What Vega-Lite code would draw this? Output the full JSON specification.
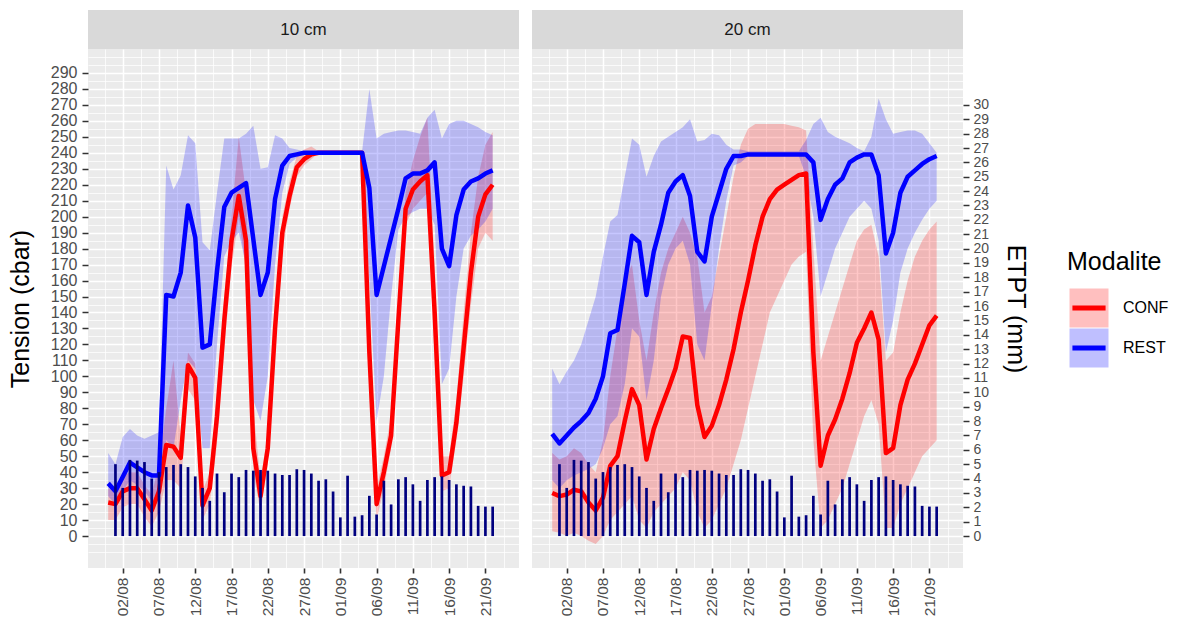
{
  "$schema": "https://vega.github.io/schema/vega-lite/v6.json",
  "padding": {"left": 8, "top": 10, "right": 0, "bottom": 0},
  "config": {
    "font": "Liberation Sans",
    "view": {"stroke": null},
    "axis": {"labelFont": "Liberation Sans", "titleFont": "Liberation Sans", "titleFontWeight": "normal", "titleColor": "#000000", "labelColor": "#4d4d4d", "domain": false, "minExtent": 0}
  },
  "datasets": {
    "etpt": [
      {"date":"2023-08-01","ETPT":5.0},{"date":"2023-08-02","ETPT":3.35},{"date":"2023-08-03","ETPT":5.3},{"date":"2023-08-04","ETPT":5.25},{"date":"2023-08-05","ETPT":5.15},
      {"date":"2023-08-06","ETPT":4.0},{"date":"2023-08-07","ETPT":4.45},{"date":"2023-08-08","ETPT":4.8},{"date":"2023-08-09","ETPT":4.95},{"date":"2023-08-10","ETPT":5.0},
      {"date":"2023-08-11","ETPT":4.8},{"date":"2023-08-12","ETPT":4.15},{"date":"2023-08-13","ETPT":3.35},{"date":"2023-08-14","ETPT":2.45},{"date":"2023-08-15","ETPT":4.35},
      {"date":"2023-08-16","ETPT":3.05},{"date":"2023-08-17","ETPT":4.35},{"date":"2023-08-18","ETPT":4.1},{"date":"2023-08-19","ETPT":4.6},{"date":"2023-08-20","ETPT":4.55},
      {"date":"2023-08-21","ETPT":4.6},{"date":"2023-08-22","ETPT":4.55},{"date":"2023-08-23","ETPT":4.35},{"date":"2023-08-24","ETPT":4.25},{"date":"2023-08-25","ETPT":4.25},
      {"date":"2023-08-26","ETPT":4.65},{"date":"2023-08-27","ETPT":4.6},{"date":"2023-08-28","ETPT":4.35},{"date":"2023-08-29","ETPT":3.85},{"date":"2023-08-30","ETPT":3.95},
      {"date":"2023-08-31","ETPT":3.1},{"date":"2023-09-01","ETPT":1.3},{"date":"2023-09-02","ETPT":4.2},{"date":"2023-09-03","ETPT":1.35},{"date":"2023-09-04","ETPT":1.45},
      {"date":"2023-09-05","ETPT":2.8},{"date":"2023-09-06","ETPT":1.5},{"date":"2023-09-07","ETPT":3.85},{"date":"2023-09-08","ETPT":2.2},{"date":"2023-09-09","ETPT":3.95},
      {"date":"2023-09-10","ETPT":4.1},{"date":"2023-09-11","ETPT":3.6},{"date":"2023-09-12","ETPT":2.45},{"date":"2023-09-13","ETPT":3.9},{"date":"2023-09-14","ETPT":4.1},
      {"date":"2023-09-15","ETPT":4.15},{"date":"2023-09-16","ETPT":3.9},{"date":"2023-09-17","ETPT":3.6},{"date":"2023-09-18","ETPT":3.5},{"date":"2023-09-19","ETPT":3.45},
      {"date":"2023-09-20","ETPT":2.1},{"date":"2023-09-21","ETPT":2.05},{"date":"2023-09-22","ETPT":2.05}
    ],
    "tension": [
      {"Profondeur":"10 cm","Modalite":"CONF","date":"2023-07-31","Tension":21,"min":10,"max":30},
      {"Profondeur":"10 cm","Modalite":"CONF","date":"2023-08-01","Tension":20,"min":10,"max":28},
      {"Profondeur":"10 cm","Modalite":"CONF","date":"2023-08-02","Tension":28,"min":18,"max":38},
      {"Profondeur":"10 cm","Modalite":"CONF","date":"2023-08-03","Tension":30,"min":20,"max":40},
      {"Profondeur":"10 cm","Modalite":"CONF","date":"2023-08-04","Tension":30,"min":20,"max":40},
      {"Profondeur":"10 cm","Modalite":"CONF","date":"2023-08-05","Tension":23,"min":12,"max":32},
      {"Profondeur":"10 cm","Modalite":"CONF","date":"2023-08-06","Tension":16,"min":6,"max":26},
      {"Profondeur":"10 cm","Modalite":"CONF","date":"2023-08-07","Tension":28,"min":15,"max":45},
      {"Profondeur":"10 cm","Modalite":"CONF","date":"2023-08-08","Tension":57,"min":35,"max":80},
      {"Profondeur":"10 cm","Modalite":"CONF","date":"2023-08-09","Tension":56,"min":35,"max":110},
      {"Profondeur":"10 cm","Modalite":"CONF","date":"2023-08-10","Tension":49,"min":30,"max":62},
      {"Profondeur":"10 cm","Modalite":"CONF","date":"2023-08-11","Tension":107,"min":92,"max":115},
      {"Profondeur":"10 cm","Modalite":"CONF","date":"2023-08-12","Tension":99,"min":85,"max":108},
      {"Profondeur":"10 cm","Modalite":"CONF","date":"2023-08-13","Tension":19,"min":10,"max":28},
      {"Profondeur":"10 cm","Modalite":"CONF","date":"2023-08-14","Tension":30,"min":20,"max":40},
      {"Profondeur":"10 cm","Modalite":"CONF","date":"2023-08-15","Tension":75,"min":58,"max":90},
      {"Profondeur":"10 cm","Modalite":"CONF","date":"2023-08-16","Tension":135,"min":118,"max":150},
      {"Profondeur":"10 cm","Modalite":"CONF","date":"2023-08-17","Tension":185,"min":168,"max":200},
      {"Profondeur":"10 cm","Modalite":"CONF","date":"2023-08-18","Tension":213,"min":200,"max":250},
      {"Profondeur":"10 cm","Modalite":"CONF","date":"2023-08-19","Tension":185,"min":165,"max":215},
      {"Profondeur":"10 cm","Modalite":"CONF","date":"2023-08-20","Tension":55,"min":40,"max":80},
      {"Profondeur":"10 cm","Modalite":"CONF","date":"2023-08-21","Tension":25,"min":15,"max":35},
      {"Profondeur":"10 cm","Modalite":"CONF","date":"2023-08-22","Tension":55,"min":45,"max":65},
      {"Profondeur":"10 cm","Modalite":"CONF","date":"2023-08-23","Tension":130,"min":118,"max":140},
      {"Profondeur":"10 cm","Modalite":"CONF","date":"2023-08-24","Tension":190,"min":178,"max":200},
      {"Profondeur":"10 cm","Modalite":"CONF","date":"2023-08-25","Tension":213,"min":205,"max":222},
      {"Profondeur":"10 cm","Modalite":"CONF","date":"2023-08-26","Tension":231,"min":225,"max":238},
      {"Profondeur":"10 cm","Modalite":"CONF","date":"2023-08-27","Tension":236,"min":232,"max":242},
      {"Profondeur":"10 cm","Modalite":"CONF","date":"2023-08-28","Tension":239,"min":236,"max":244},
      {"Profondeur":"10 cm","Modalite":"CONF","date":"2023-08-29","Tension":240,"min":240,"max":241},
      {"Profondeur":"10 cm","Modalite":"CONF","date":"2023-08-30","Tension":240,"min":240,"max":240},
      {"Profondeur":"10 cm","Modalite":"CONF","date":"2023-08-31","Tension":240,"min":240,"max":240},
      {"Profondeur":"10 cm","Modalite":"CONF","date":"2023-09-01","Tension":240,"min":240,"max":240},
      {"Profondeur":"10 cm","Modalite":"CONF","date":"2023-09-02","Tension":240,"min":240,"max":240},
      {"Profondeur":"10 cm","Modalite":"CONF","date":"2023-09-03","Tension":240,"min":240,"max":240},
      {"Profondeur":"10 cm","Modalite":"CONF","date":"2023-09-04","Tension":240,"min":238,"max":241},
      {"Profondeur":"10 cm","Modalite":"CONF","date":"2023-09-05","Tension":115,"min":90,"max":140},
      {"Profondeur":"10 cm","Modalite":"CONF","date":"2023-09-06","Tension":20,"min":10,"max":30},
      {"Profondeur":"10 cm","Modalite":"CONF","date":"2023-09-07","Tension":40,"min":30,"max":50},
      {"Profondeur":"10 cm","Modalite":"CONF","date":"2023-09-08","Tension":63,"min":55,"max":75},
      {"Profondeur":"10 cm","Modalite":"CONF","date":"2023-09-09","Tension":135,"min":120,"max":150},
      {"Profondeur":"10 cm","Modalite":"CONF","date":"2023-09-10","Tension":205,"min":195,"max":215},
      {"Profondeur":"10 cm","Modalite":"CONF","date":"2023-09-11","Tension":217,"min":205,"max":235},
      {"Profondeur":"10 cm","Modalite":"CONF","date":"2023-09-12","Tension":222,"min":210,"max":250},
      {"Profondeur":"10 cm","Modalite":"CONF","date":"2023-09-13","Tension":226,"min":215,"max":262},
      {"Profondeur":"10 cm","Modalite":"CONF","date":"2023-09-14","Tension":140,"min":110,"max":170},
      {"Profondeur":"10 cm","Modalite":"CONF","date":"2023-09-15","Tension":38,"min":28,"max":50},
      {"Profondeur":"10 cm","Modalite":"CONF","date":"2023-09-16","Tension":40,"min":30,"max":50},
      {"Profondeur":"10 cm","Modalite":"CONF","date":"2023-09-17","Tension":71,"min":60,"max":85},
      {"Profondeur":"10 cm","Modalite":"CONF","date":"2023-09-18","Tension":118,"min":100,"max":140},
      {"Profondeur":"10 cm","Modalite":"CONF","date":"2023-09-19","Tension":165,"min":145,"max":190},
      {"Profondeur":"10 cm","Modalite":"CONF","date":"2023-09-20","Tension":200,"min":180,"max":225},
      {"Profondeur":"10 cm","Modalite":"CONF","date":"2023-09-21","Tension":214,"min":190,"max":245},
      {"Profondeur":"10 cm","Modalite":"CONF","date":"2023-09-22","Tension":220,"min":185,"max":253},

      {"Profondeur":"10 cm","Modalite":"REST","date":"2023-07-31","Tension":33,"min":25,"max":52},
      {"Profondeur":"10 cm","Modalite":"REST","date":"2023-08-01","Tension":28,"min":20,"max":45},
      {"Profondeur":"10 cm","Modalite":"REST","date":"2023-08-02","Tension":37,"min":28,"max":62},
      {"Profondeur":"10 cm","Modalite":"REST","date":"2023-08-03","Tension":46,"min":35,"max":67},
      {"Profondeur":"10 cm","Modalite":"REST","date":"2023-08-04","Tension":43,"min":32,"max":63},
      {"Profondeur":"10 cm","Modalite":"REST","date":"2023-08-05","Tension":40,"min":28,"max":61},
      {"Profondeur":"10 cm","Modalite":"REST","date":"2023-08-06","Tension":38,"min":22,"max":63},
      {"Profondeur":"10 cm","Modalite":"REST","date":"2023-08-07","Tension":38,"min":25,"max":65},
      {"Profondeur":"10 cm","Modalite":"REST","date":"2023-08-08","Tension":151,"min":60,"max":232},
      {"Profondeur":"10 cm","Modalite":"REST","date":"2023-08-09","Tension":150,"min":55,"max":217},
      {"Profondeur":"10 cm","Modalite":"REST","date":"2023-08-10","Tension":165,"min":85,"max":226},
      {"Profondeur":"10 cm","Modalite":"REST","date":"2023-08-11","Tension":207,"min":110,"max":251},
      {"Profondeur":"10 cm","Modalite":"REST","date":"2023-08-12","Tension":187,"min":105,"max":246},
      {"Profondeur":"10 cm","Modalite":"REST","date":"2023-08-13","Tension":118,"min":55,"max":184},
      {"Profondeur":"10 cm","Modalite":"REST","date":"2023-08-14","Tension":120,"min":55,"max":179},
      {"Profondeur":"10 cm","Modalite":"REST","date":"2023-08-15","Tension":166,"min":120,"max":215},
      {"Profondeur":"10 cm","Modalite":"REST","date":"2023-08-16","Tension":206,"min":175,"max":249},
      {"Profondeur":"10 cm","Modalite":"REST","date":"2023-08-17","Tension":215,"min":185,"max":249},
      {"Profondeur":"10 cm","Modalite":"REST","date":"2023-08-18","Tension":218,"min":190,"max":249},
      {"Profondeur":"10 cm","Modalite":"REST","date":"2023-08-19","Tension":221,"min":170,"max":252},
      {"Profondeur":"10 cm","Modalite":"REST","date":"2023-08-20","Tension":186,"min":85,"max":257},
      {"Profondeur":"10 cm","Modalite":"REST","date":"2023-08-21","Tension":151,"min":72,"max":230},
      {"Profondeur":"10 cm","Modalite":"REST","date":"2023-08-22","Tension":165,"min":100,"max":231},
      {"Profondeur":"10 cm","Modalite":"REST","date":"2023-08-23","Tension":211,"min":170,"max":251},
      {"Profondeur":"10 cm","Modalite":"REST","date":"2023-08-24","Tension":232,"min":215,"max":249},
      {"Profondeur":"10 cm","Modalite":"REST","date":"2023-08-25","Tension":238,"min":233,"max":243},
      {"Profondeur":"10 cm","Modalite":"REST","date":"2023-08-26","Tension":239,"min":237,"max":242},
      {"Profondeur":"10 cm","Modalite":"REST","date":"2023-08-27","Tension":240,"min":239,"max":241},
      {"Profondeur":"10 cm","Modalite":"REST","date":"2023-08-28","Tension":240,"min":239,"max":241},
      {"Profondeur":"10 cm","Modalite":"REST","date":"2023-08-29","Tension":240,"min":239,"max":241},
      {"Profondeur":"10 cm","Modalite":"REST","date":"2023-08-30","Tension":240,"min":239,"max":241},
      {"Profondeur":"10 cm","Modalite":"REST","date":"2023-08-31","Tension":240,"min":239,"max":241},
      {"Profondeur":"10 cm","Modalite":"REST","date":"2023-09-01","Tension":240,"min":239,"max":241},
      {"Profondeur":"10 cm","Modalite":"REST","date":"2023-09-02","Tension":240,"min":239,"max":241},
      {"Profondeur":"10 cm","Modalite":"REST","date":"2023-09-03","Tension":240,"min":239,"max":241},
      {"Profondeur":"10 cm","Modalite":"REST","date":"2023-09-04","Tension":240,"min":239,"max":241},
      {"Profondeur":"10 cm","Modalite":"REST","date":"2023-09-05","Tension":218,"min":160,"max":280},
      {"Profondeur":"10 cm","Modalite":"REST","date":"2023-09-06","Tension":151,"min":72,"max":249},
      {"Profondeur":"10 cm","Modalite":"REST","date":"2023-09-07","Tension":169,"min":100,"max":252},
      {"Profondeur":"10 cm","Modalite":"REST","date":"2023-09-08","Tension":187,"min":150,"max":253},
      {"Profondeur":"10 cm","Modalite":"REST","date":"2023-09-09","Tension":205,"min":192,"max":254},
      {"Profondeur":"10 cm","Modalite":"REST","date":"2023-09-10","Tension":224,"min":200,"max":254},
      {"Profondeur":"10 cm","Modalite":"REST","date":"2023-09-11","Tension":227,"min":203,"max":253},
      {"Profondeur":"10 cm","Modalite":"REST","date":"2023-09-12","Tension":227,"min":205,"max":252},
      {"Profondeur":"10 cm","Modalite":"REST","date":"2023-09-13","Tension":229,"min":205,"max":262},
      {"Profondeur":"10 cm","Modalite":"REST","date":"2023-09-14","Tension":234,"min":195,"max":267},
      {"Profondeur":"10 cm","Modalite":"REST","date":"2023-09-15","Tension":180,"min":95,"max":249},
      {"Profondeur":"10 cm","Modalite":"REST","date":"2023-09-16","Tension":169,"min":105,"max":258},
      {"Profondeur":"10 cm","Modalite":"REST","date":"2023-09-17","Tension":201,"min":150,"max":260},
      {"Profondeur":"10 cm","Modalite":"REST","date":"2023-09-18","Tension":217,"min":180,"max":260},
      {"Profondeur":"10 cm","Modalite":"REST","date":"2023-09-19","Tension":222,"min":188,"max":258},
      {"Profondeur":"10 cm","Modalite":"REST","date":"2023-09-20","Tension":224,"min":192,"max":256},
      {"Profondeur":"10 cm","Modalite":"REST","date":"2023-09-21","Tension":227,"min":197,"max":253},
      {"Profondeur":"10 cm","Modalite":"REST","date":"2023-09-22","Tension":229,"min":205,"max":251},

      {"Profondeur":"20 cm","Modalite":"CONF","date":"2023-07-31","Tension":27,"min":3,"max":52},
      {"Profondeur":"20 cm","Modalite":"CONF","date":"2023-08-01","Tension":25,"min":2,"max":48},
      {"Profondeur":"20 cm","Modalite":"CONF","date":"2023-08-02","Tension":26,"min":0,"max":50},
      {"Profondeur":"20 cm","Modalite":"CONF","date":"2023-08-03","Tension":29,"min":2,"max":55},
      {"Profondeur":"20 cm","Modalite":"CONF","date":"2023-08-04","Tension":28,"min":0,"max":52},
      {"Profondeur":"20 cm","Modalite":"CONF","date":"2023-08-05","Tension":21,"min":-3,"max":45},
      {"Profondeur":"20 cm","Modalite":"CONF","date":"2023-08-06","Tension":16,"min":-5,"max":40},
      {"Profondeur":"20 cm","Modalite":"CONF","date":"2023-08-07","Tension":24,"min":0,"max":60},
      {"Profondeur":"20 cm","Modalite":"CONF","date":"2023-08-08","Tension":44,"min":10,"max":100},
      {"Profondeur":"20 cm","Modalite":"CONF","date":"2023-08-09","Tension":50,"min":15,"max":130},
      {"Profondeur":"20 cm","Modalite":"CONF","date":"2023-08-10","Tension":72,"min":20,"max":160},
      {"Profondeur":"20 cm","Modalite":"CONF","date":"2023-08-11","Tension":92,"min":25,"max":170},
      {"Profondeur":"20 cm","Modalite":"CONF","date":"2023-08-12","Tension":82,"min":10,"max":135},
      {"Profondeur":"20 cm","Modalite":"CONF","date":"2023-08-13","Tension":48,"min":5,"max":110},
      {"Profondeur":"20 cm","Modalite":"CONF","date":"2023-08-14","Tension":67,"min":15,"max":140},
      {"Profondeur":"20 cm","Modalite":"CONF","date":"2023-08-15","Tension":80,"min":20,"max":165},
      {"Profondeur":"20 cm","Modalite":"CONF","date":"2023-08-16","Tension":92,"min":25,"max":180},
      {"Profondeur":"20 cm","Modalite":"CONF","date":"2023-08-17","Tension":105,"min":30,"max":190},
      {"Profondeur":"20 cm","Modalite":"CONF","date":"2023-08-18","Tension":125,"min":40,"max":200},
      {"Profondeur":"20 cm","Modalite":"CONF","date":"2023-08-19","Tension":124,"min":35,"max":190},
      {"Profondeur":"20 cm","Modalite":"CONF","date":"2023-08-20","Tension":82,"min":15,"max":175},
      {"Profondeur":"20 cm","Modalite":"CONF","date":"2023-08-21","Tension":62,"min":5,"max":140},
      {"Profondeur":"20 cm","Modalite":"CONF","date":"2023-08-22","Tension":69,"min":10,"max":150},
      {"Profondeur":"20 cm","Modalite":"CONF","date":"2023-08-23","Tension":82,"min":20,"max":175},
      {"Profondeur":"20 cm","Modalite":"CONF","date":"2023-08-24","Tension":98,"min":30,"max":200},
      {"Profondeur":"20 cm","Modalite":"CONF","date":"2023-08-25","Tension":117,"min":45,"max":225},
      {"Profondeur":"20 cm","Modalite":"CONF","date":"2023-08-26","Tension":140,"min":60,"max":245},
      {"Profondeur":"20 cm","Modalite":"CONF","date":"2023-08-27","Tension":160,"min":80,"max":255},
      {"Profondeur":"20 cm","Modalite":"CONF","date":"2023-08-28","Tension":182,"min":100,"max":258},
      {"Profondeur":"20 cm","Modalite":"CONF","date":"2023-08-29","Tension":200,"min":120,"max":258},
      {"Profondeur":"20 cm","Modalite":"CONF","date":"2023-08-30","Tension":211,"min":140,"max":258},
      {"Profondeur":"20 cm","Modalite":"CONF","date":"2023-08-31","Tension":217,"min":150,"max":258},
      {"Profondeur":"20 cm","Modalite":"CONF","date":"2023-09-01","Tension":220,"min":160,"max":258},
      {"Profondeur":"20 cm","Modalite":"CONF","date":"2023-09-02","Tension":223,"min":170,"max":257},
      {"Profondeur":"20 cm","Modalite":"CONF","date":"2023-09-03","Tension":226,"min":175,"max":256},
      {"Profondeur":"20 cm","Modalite":"CONF","date":"2023-09-04","Tension":227,"min":178,"max":254},
      {"Profondeur":"20 cm","Modalite":"CONF","date":"2023-09-05","Tension":115,"min":60,"max":180},
      {"Profondeur":"20 cm","Modalite":"CONF","date":"2023-09-06","Tension":44,"min":5,"max":110},
      {"Profondeur":"20 cm","Modalite":"CONF","date":"2023-09-07","Tension":63,"min":10,"max":125},
      {"Profondeur":"20 cm","Modalite":"CONF","date":"2023-09-08","Tension":73,"min":20,"max":140},
      {"Profondeur":"20 cm","Modalite":"CONF","date":"2023-09-09","Tension":86,"min":30,"max":155},
      {"Profondeur":"20 cm","Modalite":"CONF","date":"2023-09-10","Tension":102,"min":45,"max":170},
      {"Profondeur":"20 cm","Modalite":"CONF","date":"2023-09-11","Tension":121,"min":60,"max":185},
      {"Profondeur":"20 cm","Modalite":"CONF","date":"2023-09-12","Tension":130,"min":75,"max":192},
      {"Profondeur":"20 cm","Modalite":"CONF","date":"2023-09-13","Tension":140,"min":85,"max":195},
      {"Profondeur":"20 cm","Modalite":"CONF","date":"2023-09-14","Tension":123,"min":70,"max":175},
      {"Profondeur":"20 cm","Modalite":"CONF","date":"2023-09-15","Tension":52,"min":5,"max":110},
      {"Profondeur":"20 cm","Modalite":"CONF","date":"2023-09-16","Tension":55,"min":5,"max":115},
      {"Profondeur":"20 cm","Modalite":"CONF","date":"2023-09-17","Tension":82,"min":20,"max":140},
      {"Profondeur":"20 cm","Modalite":"CONF","date":"2023-09-18","Tension":98,"min":30,"max":160},
      {"Profondeur":"20 cm","Modalite":"CONF","date":"2023-09-19","Tension":108,"min":40,"max":175},
      {"Profondeur":"20 cm","Modalite":"CONF","date":"2023-09-20","Tension":120,"min":50,"max":185},
      {"Profondeur":"20 cm","Modalite":"CONF","date":"2023-09-21","Tension":132,"min":55,"max":192},
      {"Profondeur":"20 cm","Modalite":"CONF","date":"2023-09-22","Tension":138,"min":60,"max":197},

      {"Profondeur":"20 cm","Modalite":"REST","date":"2023-07-31","Tension":64,"min":35,"max":105},
      {"Profondeur":"20 cm","Modalite":"REST","date":"2023-08-01","Tension":58,"min":30,"max":95},
      {"Profondeur":"20 cm","Modalite":"REST","date":"2023-08-02","Tension":63,"min":35,"max":103},
      {"Profondeur":"20 cm","Modalite":"REST","date":"2023-08-03","Tension":68,"min":38,"max":110},
      {"Profondeur":"20 cm","Modalite":"REST","date":"2023-08-04","Tension":72,"min":40,"max":120},
      {"Profondeur":"20 cm","Modalite":"REST","date":"2023-08-05","Tension":77,"min":42,"max":135},
      {"Profondeur":"20 cm","Modalite":"REST","date":"2023-08-06","Tension":86,"min":45,"max":150},
      {"Profondeur":"20 cm","Modalite":"REST","date":"2023-08-07","Tension":100,"min":55,"max":175},
      {"Profondeur":"20 cm","Modalite":"REST","date":"2023-08-08","Tension":127,"min":70,"max":197},
      {"Profondeur":"20 cm","Modalite":"REST","date":"2023-08-09","Tension":129,"min":75,"max":201},
      {"Profondeur":"20 cm","Modalite":"REST","date":"2023-08-10","Tension":158,"min":95,"max":225},
      {"Profondeur":"20 cm","Modalite":"REST","date":"2023-08-11","Tension":188,"min":130,"max":249},
      {"Profondeur":"20 cm","Modalite":"REST","date":"2023-08-12","Tension":184,"min":125,"max":245},
      {"Profondeur":"20 cm","Modalite":"REST","date":"2023-08-13","Tension":151,"min":85,"max":225},
      {"Profondeur":"20 cm","Modalite":"REST","date":"2023-08-14","Tension":178,"min":110,"max":238},
      {"Profondeur":"20 cm","Modalite":"REST","date":"2023-08-15","Tension":195,"min":150,"max":247},
      {"Profondeur":"20 cm","Modalite":"REST","date":"2023-08-16","Tension":215,"min":170,"max":250},
      {"Profondeur":"20 cm","Modalite":"REST","date":"2023-08-17","Tension":222,"min":180,"max":253},
      {"Profondeur":"20 cm","Modalite":"REST","date":"2023-08-18","Tension":226,"min":185,"max":256},
      {"Profondeur":"20 cm","Modalite":"REST","date":"2023-08-19","Tension":213,"min":170,"max":261},
      {"Profondeur":"20 cm","Modalite":"REST","date":"2023-08-20","Tension":178,"min":120,"max":247},
      {"Profondeur":"20 cm","Modalite":"REST","date":"2023-08-21","Tension":172,"min":110,"max":248},
      {"Profondeur":"20 cm","Modalite":"REST","date":"2023-08-22","Tension":200,"min":145,"max":252},
      {"Profondeur":"20 cm","Modalite":"REST","date":"2023-08-23","Tension":215,"min":180,"max":251},
      {"Profondeur":"20 cm","Modalite":"REST","date":"2023-08-24","Tension":230,"min":210,"max":245},
      {"Profondeur":"20 cm","Modalite":"REST","date":"2023-08-25","Tension":238,"min":232,"max":242},
      {"Profondeur":"20 cm","Modalite":"REST","date":"2023-08-26","Tension":238,"min":234,"max":242},
      {"Profondeur":"20 cm","Modalite":"REST","date":"2023-08-27","Tension":239,"min":238,"max":241},
      {"Profondeur":"20 cm","Modalite":"REST","date":"2023-08-28","Tension":239,"min":238,"max":241},
      {"Profondeur":"20 cm","Modalite":"REST","date":"2023-08-29","Tension":239,"min":238,"max":241},
      {"Profondeur":"20 cm","Modalite":"REST","date":"2023-08-30","Tension":239,"min":238,"max":241},
      {"Profondeur":"20 cm","Modalite":"REST","date":"2023-08-31","Tension":239,"min":238,"max":241},
      {"Profondeur":"20 cm","Modalite":"REST","date":"2023-09-01","Tension":239,"min":238,"max":241},
      {"Profondeur":"20 cm","Modalite":"REST","date":"2023-09-02","Tension":239,"min":238,"max":241},
      {"Profondeur":"20 cm","Modalite":"REST","date":"2023-09-03","Tension":239,"min":238,"max":241},
      {"Profondeur":"20 cm","Modalite":"REST","date":"2023-09-04","Tension":239,"min":225,"max":248},
      {"Profondeur":"20 cm","Modalite":"REST","date":"2023-09-05","Tension":234,"min":200,"max":258},
      {"Profondeur":"20 cm","Modalite":"REST","date":"2023-09-06","Tension":198,"min":150,"max":262},
      {"Profondeur":"20 cm","Modalite":"REST","date":"2023-09-07","Tension":211,"min":165,"max":253},
      {"Profondeur":"20 cm","Modalite":"REST","date":"2023-09-08","Tension":220,"min":180,"max":250},
      {"Profondeur":"20 cm","Modalite":"REST","date":"2023-09-09","Tension":224,"min":190,"max":248},
      {"Profondeur":"20 cm","Modalite":"REST","date":"2023-09-10","Tension":234,"min":200,"max":246},
      {"Profondeur":"20 cm","Modalite":"REST","date":"2023-09-11","Tension":237,"min":205,"max":243},
      {"Profondeur":"20 cm","Modalite":"REST","date":"2023-09-12","Tension":239,"min":210,"max":241},
      {"Profondeur":"20 cm","Modalite":"REST","date":"2023-09-13","Tension":239,"min":205,"max":250},
      {"Profondeur":"20 cm","Modalite":"REST","date":"2023-09-14","Tension":226,"min":185,"max":274},
      {"Profondeur":"20 cm","Modalite":"REST","date":"2023-09-15","Tension":177,"min":115,"max":261},
      {"Profondeur":"20 cm","Modalite":"REST","date":"2023-09-16","Tension":190,"min":135,"max":252},
      {"Profondeur":"20 cm","Modalite":"REST","date":"2023-09-17","Tension":215,"min":165,"max":253},
      {"Profondeur":"20 cm","Modalite":"REST","date":"2023-09-18","Tension":225,"min":180,"max":254},
      {"Profondeur":"20 cm","Modalite":"REST","date":"2023-09-19","Tension":229,"min":190,"max":254},
      {"Profondeur":"20 cm","Modalite":"REST","date":"2023-09-20","Tension":233,"min":198,"max":252},
      {"Profondeur":"20 cm","Modalite":"REST","date":"2023-09-21","Tension":236,"min":205,"max":246},
      {"Profondeur":"20 cm","Modalite":"REST","date":"2023-09-22","Tension":238,"min":210,"max":240}
    ]
  },
  "spacing": 13,
  "hconcat": [
    {
      "vconcat": [
        {
          "width": 431, "height": 39,
          "view": {"fill": "#d9d9d9", "stroke": null},
          "data": {"values": [{"Profondeur": "10 cm"}]},
          "mark": {"type": "text", "fontSize": 17, "color": "#1a1a1a", "font": "Liberation Sans"},
          "encoding": {"text": {"field": "Profondeur", "type": "nominal"}}
        },
        {
          "width": 431, "height": 519,
          "view": {"fill": "#ebebeb", "stroke": null},
          "encoding": {
            "x": {"field": "date", "type": "temporal",
              "scale": {"type": "utc", "nice": false, "domain": [{"year":2023,"month":7,"date":28,"hours":5,"minutes":10,"utc":true},{"year":2023,"month":9,"date":25,"hours":15,"minutes":7,"utc":true}]},
              "axis": {"title": null,
                "values": [{"year":2023,"month":7,"date":30,"hours":12,"utc":true},{"year":2023,"month":8,"date":2,"utc":true},{"year":2023,"month":8,"date":4,"hours":12,"utc":true},{"year":2023,"month":8,"date":7,"utc":true},{"year":2023,"month":8,"date":9,"hours":12,"utc":true},{"year":2023,"month":8,"date":12,"utc":true},{"year":2023,"month":8,"date":14,"hours":12,"utc":true},{"year":2023,"month":8,"date":17,"utc":true},{"year":2023,"month":8,"date":19,"hours":12,"utc":true},{"year":2023,"month":8,"date":22,"utc":true},{"year":2023,"month":8,"date":24,"hours":12,"utc":true},{"year":2023,"month":8,"date":27,"utc":true},{"year":2023,"month":8,"date":29,"hours":12,"utc":true},{"year":2023,"month":9,"date":1,"utc":true},{"year":2023,"month":9,"date":3,"hours":12,"utc":true},{"year":2023,"month":9,"date":6,"utc":true},{"year":2023,"month":9,"date":8,"hours":12,"utc":true},{"year":2023,"month":9,"date":11,"utc":true},{"year":2023,"month":9,"date":13,"hours":12,"utc":true},{"year":2023,"month":9,"date":16,"utc":true},{"year":2023,"month":9,"date":18,"hours":12,"utc":true},{"year":2023,"month":9,"date":21,"utc":true},{"year":2023,"month":9,"date":23,"hours":12,"utc":true}],
                "labelExpr": "utchours(datum.value) == 0 ? utcFormat(datum.value, '%d/%m') : ''",
                "labelAngle": 270, "labelAlign": "right", "labelBaseline": "middle",
                "labelFontSize": 15.5, "labelPadding": 4, "labelOverlap": false, "labelFlush": false, "labelBound": false,
                "tickSize": 5, "tickWidth": 1.6,
                "tickColor": {"condition": {"test": "utchours(datum.value) == 0", "value": "#333333"}, "value": "transparent"},
                "grid": true, "gridColor": "#ffffff", "gridOpacity": 1,
                "gridWidth": {"condition": {"test": "utchours(datum.value) == 0", "value": 1.5}, "value": 0.75}
              }
            }
          },
          "layer": [
            {
              "data": {"name": "tension"},
              "transform": [{"filter": "datum.Profondeur == '10 cm'"}],
              "mark": {"type": "area", "fillOpacity": 0.22},
              "encoding": {
                "y": {"field": "max", "type": "quantitative", "scale": {"domain": [-20, 305], "nice": false, "zero": false},
                  "axis": {"orient": "left", "title": "Tension (cbar)", "titleFontSize": 25, "titlePadding": 17,
                    "values": [-10,-5,0,5,10,15,20,25,30,35,40,45,50,55,60,65,70,75,80,85,90,95,100,105,110,115,120,125,130,135,140,145,150,155,160,165,170,175,180,185,190,195,200,205,210,215,220,225,230,235,240,245,250,255,260,265,270,275,280,285,290,295,300],
                    "labelExpr": "(datum.value % 10 == 0 && datum.value >= 0 && datum.value <= 290) ? datum.label : ''",
                    "labelFontSize": 16, "labelPadding": 5, "labelOverlap": false, "labelBound": false, "labelFlush": false,
                    "tickSize": 6, "tickWidth": 1.5,
                    "tickColor": {"condition": {"test": "datum.value % 10 == 0 && datum.value >= 0 && datum.value <= 290", "value": "#333333"}, "value": "transparent"},
                    "grid": true, "gridColor": "#ffffff", "gridOpacity": 1,
                    "gridWidth": {"condition": {"test": "datum.value % 10 == 0 && datum.value >= 0 && datum.value <= 290", "value": 1.5}, "value": 0.75}
                  }},
                "y2": {"field": "min"},
                "fill": {"field": "Modalite", "type": "nominal", "scale": {"domain": ["CONF", "REST"], "range": ["#ff0000", "#0000ff"]},
                  "legend": {"orient": "none", "legendX": 979, "legendY": 240, "title": "Modalite", "titleFontSize": 25, "titleFontWeight": "normal", "titleColor": "#000000", "titleOpacity": 0, "titlePadding": 13, "labelFontSize": 16, "labelColor": "#000000", "labelOpacity": 0, "labelOffset": 12, "symbolType": "M-1,-1H1V1H-1Z", "symbolSize": 1521, "symbolStrokeWidth": 5, "symbolStrokeColor": "transparent", "symbolOpacity": 0.25, "clipHeight": 40, "rowPadding": 0, "padding": 0, "zindex": 1}}
              }
            },
            {
              "data": {"name": "tension"},
              "transform": [{"filter": "datum.Profondeur == '10 cm' && datum.Modalite == 'CONF'"}],
              "mark": {"type": "line", "strokeWidth": 4.5, "strokeJoin": "round"},
              "encoding": {
                "y": {"field": "Tension", "type": "quantitative", "scale": {"domain": [-20, 305], "nice": false, "zero": false}, "axis": null},
                "stroke": {"field": "Modalite", "type": "nominal", "scale": {"range": ["#ff0000", "#0000ff"]},
                  "legend": {"orient": "none", "legendX": 979, "legendY": 240, "title": "Modalite", "titleFontSize": 25, "titleFontWeight": "normal", "titleColor": "#000000", "titlePadding": 13, "labelFontSize": 16, "labelColor": "#000000", "labelOffset": 12, "symbolType": "M-0.85,0H0.85", "symbolSize": 1521, "symbolStrokeWidth": 5, "symbolFillColor": "transparent", "clipHeight": 40, "rowPadding": 0, "padding": 0, "zindex": 2}}
              }
            },
            {
              "data": {"name": "tension"},
              "transform": [{"filter": "datum.Profondeur == '10 cm' && datum.Modalite == 'REST'"}],
              "mark": {"type": "line", "strokeWidth": 4.5, "strokeJoin": "round"},
              "encoding": {
                "y": {"field": "Tension", "type": "quantitative", "scale": {"domain": [-20, 305], "nice": false, "zero": false}, "axis": null},
                "stroke": {"field": "Modalite", "type": "nominal"}
              }
            },
            {
              "data": {"name": "etpt"},
              "mark": {"type": "rule", "strokeWidth": 2.7, "color": "#000080"},
              "encoding": {
                "y": {"field": "ETPT", "type": "quantitative", "scale": {"domain": [-2.2222222, 33.8888889], "nice": false, "zero": false}, "axis": null},
                "y2": {"datum": 0}
              }
            }
          ],
          "resolve": {"scale": {"y": "independent"}, "axis": {"y": "independent"}}
        }
      ],
      "spacing": 0,
      "bounds": "flush"
    },
    {
      "vconcat": [
        {
          "width": 431, "height": 39,
          "view": {"fill": "#d9d9d9", "stroke": null},
          "data": {"values": [{"Profondeur": "20 cm"}]},
          "mark": {"type": "text", "fontSize": 17, "color": "#1a1a1a", "font": "Liberation Sans"},
          "encoding": {"text": {"field": "Profondeur", "type": "nominal"}}
        },
        {
          "width": 431, "height": 519,
          "view": {"fill": "#ebebeb", "stroke": null},
          "encoding": {
            "x": {"field": "date", "type": "temporal",
              "scale": {"type": "utc", "nice": false, "domain": [{"year":2023,"month":7,"date":28,"hours":5,"minutes":10,"utc":true},{"year":2023,"month":9,"date":25,"hours":15,"minutes":7,"utc":true}]},
              "axis": {"title": null,
                "values": [{"year":2023,"month":7,"date":30,"hours":12,"utc":true},{"year":2023,"month":8,"date":2,"utc":true},{"year":2023,"month":8,"date":4,"hours":12,"utc":true},{"year":2023,"month":8,"date":7,"utc":true},{"year":2023,"month":8,"date":9,"hours":12,"utc":true},{"year":2023,"month":8,"date":12,"utc":true},{"year":2023,"month":8,"date":14,"hours":12,"utc":true},{"year":2023,"month":8,"date":17,"utc":true},{"year":2023,"month":8,"date":19,"hours":12,"utc":true},{"year":2023,"month":8,"date":22,"utc":true},{"year":2023,"month":8,"date":24,"hours":12,"utc":true},{"year":2023,"month":8,"date":27,"utc":true},{"year":2023,"month":8,"date":29,"hours":12,"utc":true},{"year":2023,"month":9,"date":1,"utc":true},{"year":2023,"month":9,"date":3,"hours":12,"utc":true},{"year":2023,"month":9,"date":6,"utc":true},{"year":2023,"month":9,"date":8,"hours":12,"utc":true},{"year":2023,"month":9,"date":11,"utc":true},{"year":2023,"month":9,"date":13,"hours":12,"utc":true},{"year":2023,"month":9,"date":16,"utc":true},{"year":2023,"month":9,"date":18,"hours":12,"utc":true},{"year":2023,"month":9,"date":21,"utc":true},{"year":2023,"month":9,"date":23,"hours":12,"utc":true}],
                "labelExpr": "utchours(datum.value) == 0 ? utcFormat(datum.value, '%d/%m') : ''",
                "labelAngle": 270, "labelAlign": "right", "labelBaseline": "middle",
                "labelFontSize": 15.5, "labelPadding": 4, "labelOverlap": false, "labelFlush": false, "labelBound": false,
                "tickSize": 5, "tickWidth": 1.6,
                "tickColor": {"condition": {"test": "utchours(datum.value) == 0", "value": "#333333"}, "value": "transparent"},
                "grid": true, "gridColor": "#ffffff", "gridOpacity": 1,
                "gridWidth": {"condition": {"test": "utchours(datum.value) == 0", "value": 1.5}, "value": 0.75}
              }
            }
          },
          "layer": [
            {
              "data": {"name": "tension"},
              "transform": [{"filter": "datum.Profondeur == '20 cm'"}],
              "mark": {"type": "area", "fillOpacity": 0.22},
              "encoding": {
                "y": {"field": "max", "type": "quantitative", "scale": {"domain": [-20, 305], "nice": false, "zero": false},
                  "axis": {"orient": "left", "title": null, "labels": false, "ticks": false, "domain": false,
                    "values": [-10,-5,0,5,10,15,20,25,30,35,40,45,50,55,60,65,70,75,80,85,90,95,100,105,110,115,120,125,130,135,140,145,150,155,160,165,170,175,180,185,190,195,200,205,210,215,220,225,230,235,240,245,250,255,260,265,270,275,280,285,290,295,300],
                    "grid": true, "gridColor": "#ffffff", "gridOpacity": 1,
                    "gridWidth": {"condition": {"test": "datum.value % 10 == 0 && datum.value >= 0 && datum.value <= 290", "value": 1.5}, "value": 0.75}
                  }},
                "y2": {"field": "min"},
                "fill": {"field": "Modalite", "type": "nominal", "scale": {"domain": ["CONF", "REST"], "range": ["#ff0000", "#0000ff"]},
                  "legend": {"orient": "none", "legendX": 979, "legendY": 240, "title": "Modalite", "titleFontSize": 25, "titleFontWeight": "normal", "titleColor": "#000000", "titleOpacity": 0, "titlePadding": 13, "labelFontSize": 16, "labelColor": "#000000", "labelOpacity": 0, "labelOffset": 12, "symbolType": "M-1,-1H1V1H-1Z", "symbolSize": 1521, "symbolStrokeWidth": 5, "symbolStrokeColor": "transparent", "symbolOpacity": 0.25, "clipHeight": 40, "rowPadding": 0, "padding": 0, "zindex": 1}}
              }
            },
            {
              "data": {"name": "tension"},
              "transform": [{"filter": "datum.Profondeur == '20 cm' && datum.Modalite == 'CONF'"}],
              "mark": {"type": "line", "strokeWidth": 4.5, "strokeJoin": "round"},
              "encoding": {
                "y": {"field": "Tension", "type": "quantitative", "scale": {"domain": [-20, 305], "nice": false, "zero": false}, "axis": null},
                "stroke": {"field": "Modalite", "type": "nominal", "scale": {"range": ["#ff0000", "#0000ff"]},
                  "legend": {"orient": "none", "legendX": 979, "legendY": 240, "title": "Modalite", "titleFontSize": 25, "titleFontWeight": "normal", "titleColor": "#000000", "titlePadding": 13, "labelFontSize": 16, "labelColor": "#000000", "labelOffset": 12, "symbolType": "M-0.85,0H0.85", "symbolSize": 1521, "symbolStrokeWidth": 5, "symbolFillColor": "transparent", "clipHeight": 40, "rowPadding": 0, "padding": 0, "zindex": 2}}
              }
            },
            {
              "data": {"name": "tension"},
              "transform": [{"filter": "datum.Profondeur == '20 cm' && datum.Modalite == 'REST'"}],
              "mark": {"type": "line", "strokeWidth": 4.5, "strokeJoin": "round"},
              "encoding": {
                "y": {"field": "Tension", "type": "quantitative", "scale": {"domain": [-20, 305], "nice": false, "zero": false}, "axis": null},
                "stroke": {"field": "Modalite", "type": "nominal"}
              }
            },
            {
              "data": {"name": "etpt"},
              "mark": {"type": "rule", "strokeWidth": 2.7, "color": "#000080"},
              "encoding": {
                "y": {"field": "ETPT", "type": "quantitative", "scale": {"domain": [-2.2222222, 33.8888889], "nice": false, "zero": false},
                  "axis": {"orient": "right", "title": "ETPT (mm)", "titleFontSize": 25, "titlePadding": 14,
                    "values": [0,1,2,3,4,5,6,7,8,9,10,11,12,13,14,15,16,17,18,19,20,21,22,23,24,25,26,27,28,29,30],
                    "labelFontSize": 14, "labelPadding": 4, "labelOverlap": false, "labelBound": false, "labelFlush": false,
                    "tickSize": 6, "tickWidth": 1.5, "tickColor": "#333333", "grid": false}},
                "y2": {"datum": 0}
              }
            }
          ],
          "resolve": {"scale": {"y": "independent"}, "axis": {"y": "independent"}}
        }
      ],
      "spacing": 0,
      "bounds": "flush"
    }
  ]
}
